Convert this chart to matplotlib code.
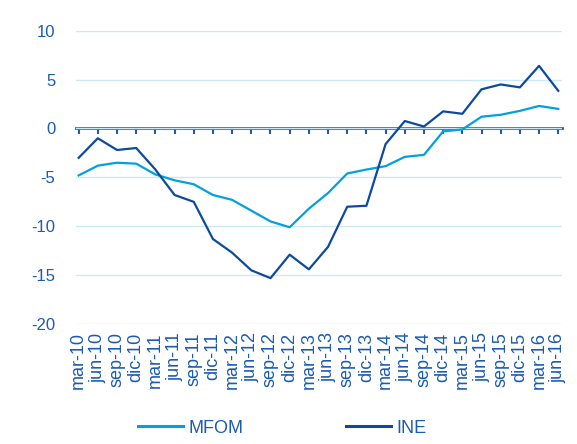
import numpy as np
import matplotlib.pyplot as plt

plt.rcParams['font.family'] = ['Liberation Sans', 'DejaVu Sans']
plt.rcParams['axes.unicode_minus'] = False

trimestres = ['mar-10', 'jun-10', 'sep-10', 'dic-10', 'mar-11', 'jun-11', 'sep-11', 'dic-11',
              'mar-12', 'jun-12', 'sep-12', 'dic-12', 'mar-13', 'jun-13', 'sep-13', 'dic-13',
              'mar-14', 'jun-14', 'sep-14', 'dic-14', 'mar-15', 'jun-15', 'sep-15', 'dic-15',
              'mar-16', 'jun-16']
mfom = [-4.8, -3.8, -3.5, -3.6, -4.7, -5.3, -5.7, -6.8, -7.3, -8.4, -9.5, -10.1, -8.2,
        -6.6, -4.6, -4.2, -3.85, -2.9, -2.7, -0.3, -0.1, 1.2, 1.4, 1.8, 2.3, 2.0]
ine = [-3.0, -1.0, -2.2, -2.0, -4.2, -6.8, -7.5, -11.3, -12.7, -14.5, -15.3, -12.9, -14.4,
       -12.1, -8.0, -7.9, -1.6, 0.76, 0.2, 1.75, 1.5, 4.0, 4.5, 4.2, 6.4, 3.85]

c_texto = '#1B5BB0'
c_mfom = '#00A0E3'
c_ine = '#0D4A9E'
c_eje = '#1E5CB3'

x = np.arange(len(trimestres))

fig = plt.figure(figsize=(5.77, 4.44), dpi=100)
ax = fig.add_axes([0.132, 0.27, 0.8415, 0.661])

ax.set_yticks([-20, -15, -10, -5, 0, 5, 10])
ax.set_ylim(-20, 10)
ax.set_xlim(-0.13, 25.18)
ax.grid(axis='y', color='#CDE9F7', linewidth=1)
ax.set_axisbelow(True)
for s in ax.spines.values():
    s.set_visible(False)

ax.plot(x, mfom, color=c_mfom, linewidth=1.6, label='MFOM', zorder=3)
ax.plot(x, ine, color=c_ine, linewidth=1.6, label='INE', zorder=3)

ax.set_xticks(x)
ax.set_xticklabels(trimestres, rotation=90, fontsize=13, color=c_texto)
ax.tick_params(axis='x', length=0, pad=6)
ax.tick_params(axis='y', length=0, labelsize=12, labelcolor=c_texto, pad=15)

# eje de categorias en el cero
eje0 = ax.secondary_xaxis(0, transform=ax.transData)
eje0.set_xticks(x)
eje0.set_xticklabels([])
eje0.spines['bottom'].set_color(c_eje)
eje0.spines['bottom'].set_linewidth(2)
eje0.tick_params(axis='x', direction='out', length=4, width=1.5, color=c_eje)

leg = fig.legend(loc='center', bbox_to_anchor=(0.489, 0.036), ncol=2, frameon=False,
                 handlelength=2.5, columnspacing=5.7, handletextpad=0.3, fontsize=13)
for t in leg.get_texts():
    t.set_color(c_texto)
for h in leg.get_lines():
    h.set_linewidth(2.2)

fig.savefig('out.png', dpi=100)
